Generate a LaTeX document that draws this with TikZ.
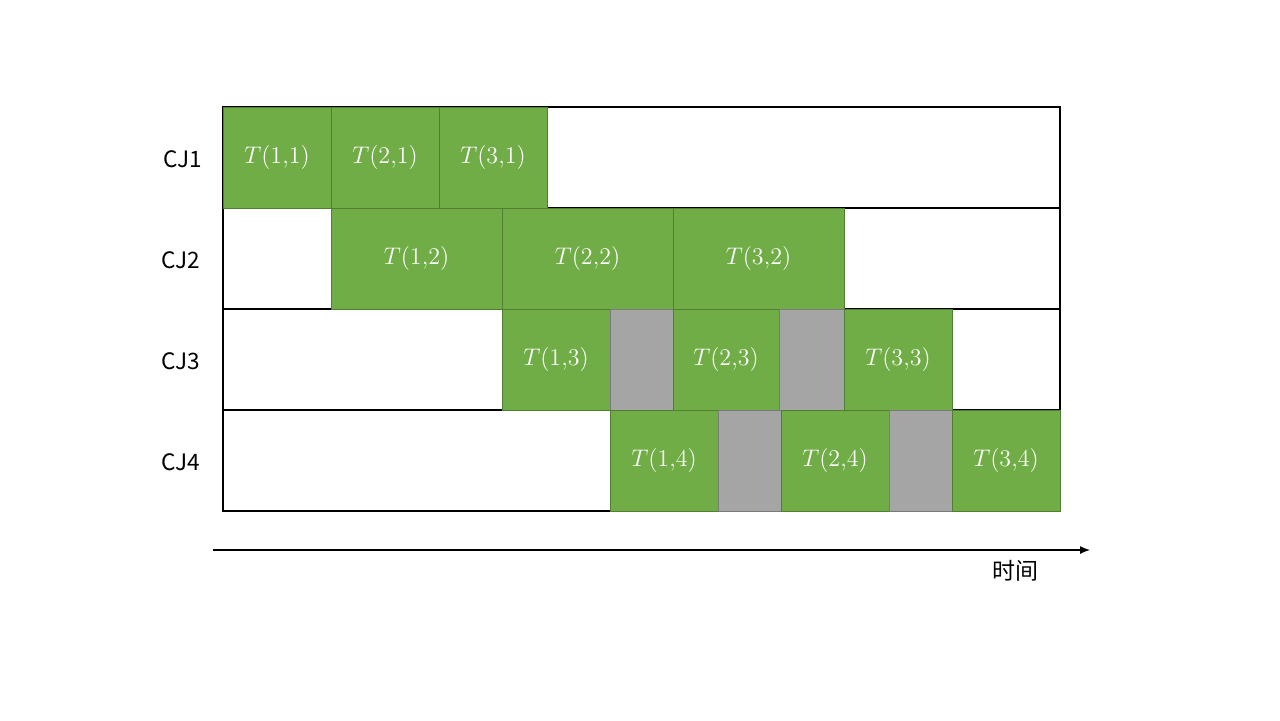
\documentclass[tikz,border=0pt]{standalone}
\usepackage{fontspec}
\usetikzlibrary{arrows.meta}
\newfontfamily\cjk{Noto Sans CJK SC}
\definecolor{cgreen}{HTML}{70AD47}
\definecolor{cgreenb}{HTML}{507E32}
\definecolor{cgray}{HTML}{A5A5A5}
\definecolor{cgrayb}{HTML}{7A7A7A}
\newcommand\mycell[6]{%
  \pgfmathsetmacro\cw{(#3-#2)*0.5}%
  \pgfmathsetmacro\cx{(#3+#2)/2}%
  \node[#5, minimum width=\cw pt] (#1) at (\cx,#4) {#6};}
\begin{document}
\begin{tikzpicture}[x=0.5pt,y=-0.5pt,
  cellbase/.style={rectangle, inner sep=0pt, outer sep=0pt, minimum height=50.5pt},
  rowbox/.style={cellbase, draw=black, line width=0.65pt, fill=white},
  gbox/.style={cellbase, draw=cgreenb, line width=0.5pt, fill=cgreen, text=white,
     font=\fontsize{12.2}{15}\selectfont},
  graybox/.style={cellbase, draw=cgrayb, line width=0.5pt, fill=cgray},
  rowlabel/.style={font=\cjk\fontsize{11.3}{14}\selectfont, anchor=center},
  axis/.style={line width=0.65pt, -{Latex[length=5pt,width=4pt]}}]
\useasboundingbox (0,0) rectangle (1280,720);
% row backgrounds
\mycell{r1}{223}{1060}{157.5}{rowbox}{}
\mycell{r2}{223}{1060}{258.5}{rowbox}{}
\mycell{r3}{223}{1060}{359.5}{rowbox}{}
\mycell{r4}{223}{1060}{460.5}{rowbox}{}
% row 1
\mycell{t11}{223}{331}{157.5}{gbox}{$T(1{,}1)$}
\mycell{t21}{331}{439}{157.5}{gbox}{$T(2{,}1)$}
\mycell{t31}{439}{547}{157.5}{gbox}{$T(3{,}1)$}
% row 2
\mycell{t12}{331}{502}{258.5}{gbox}{$T(1{,}2)$}
\mycell{t22}{502}{673}{258.5}{gbox}{$T(2{,}2)$}
\mycell{t32}{673}{844}{258.5}{gbox}{$T(3{,}2)$}
% row 3
\mycell{t13}{502}{610}{359.5}{gbox}{$T(1{,}3)$}
\mycell{g13}{610}{673}{359.5}{graybox}{}
\mycell{t23}{673}{779}{359.5}{gbox}{$T(2{,}3)$}
\mycell{g23}{779}{844}{359.5}{graybox}{}
\mycell{t33}{844}{952}{359.5}{gbox}{$T(3{,}3)$}
% row 4
\mycell{t14}{610}{718}{460.5}{gbox}{$T(1{,}4)$}
\mycell{g14}{718}{781}{460.5}{graybox}{}
\mycell{t24}{781}{889}{460.5}{gbox}{$T(2{,}4)$}
\mycell{g24}{889}{952}{460.5}{graybox}{}
\mycell{t34}{952}{1060}{460.5}{gbox}{$T(3{,}4)$}
% labels
\node[rowlabel] (l1) at (183,159) {CJ1};
\node[rowlabel] (l2) at (181,260) {CJ2};
\node[rowlabel] (l3) at (181,361) {CJ3};
\node[rowlabel] (l4) at (181,462) {CJ4};
% time axis
\coordinate (a0) at (213,550);
\coordinate (a1) at (1090,550);
\draw[axis] (a0) -- (a1);
\node[font=\cjk\fontsize{11.5}{14}\selectfont] (time) at (1015,571) {时间};
\end{tikzpicture}
\end{document}
